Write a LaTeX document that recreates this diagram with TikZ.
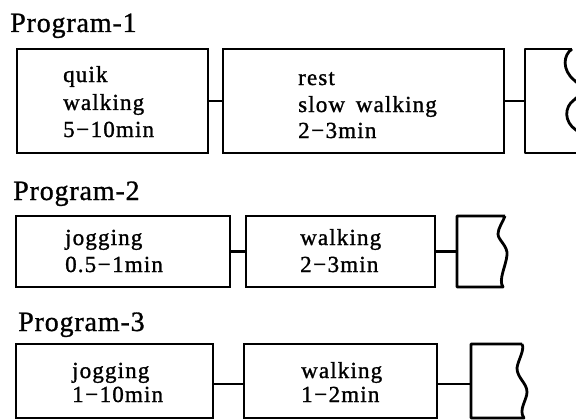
\documentclass[tikz,border=0pt]{standalone}
\usepackage{fontspec}
\setmainfont{Liberation Serif}
\newfontfamily\boxfont{Liberation Serif}[LetterSpace=5,FakeBold=1.2]
\newfontfamily\titlefont{Liberation Serif}[LetterSpace=3,FakeBold=1]
\newcommand{\dsh}{\hspace{1.5pt}−\hspace{1.5pt}}
\begin{document}
\begin{tikzpicture}[x=1pt,y=-1pt,
  box/.style={draw, line width=2.8pt, rectangle, inner sep=0pt, outer sep=0pt, anchor=north west},
  link/.style={line width=2.8pt},
  lbl/.style={anchor=base west, inner sep=0pt, font=\boxfont\fontsize{23}{23}\selectfont},
  ttl/.style={anchor=base west, inner sep=0pt, font=\titlefont\fontsize{28}{28}\selectfont}]
\useasboundingbox (0,0) rectangle (576,420);

% ---------- Program-1
\node[ttl] (t1) at (10,32) {Program-1};
\node[box, minimum width=191pt, minimum height=104pt] (p1a) at (17,49) {};
\node[box, minimum width=281pt, minimum height=104pt] (p1b) at (223,49) {};
\coordinate (c1) at (525,101);
\draw[link, line join=round] (572,49) -- (525,49) -- (525,153) -- (580,153);
\draw[link] (572,49) .. controls (563,55) and (562,70) .. (574,80)
  .. controls (582,86) and (582,94) .. (574,100)
  .. controls (564,107) and (564,122) .. (576,130)
  .. controls (584,136) and (584,148) .. (580,153);
\draw[link] (p1a.east) -- (p1b.west);
\draw[link] (p1b.east) -- (c1);
\node[lbl] (l11) at (63,82) {quik};
\node[lbl] (l12) at (63,110) {walking};
\node[lbl] (l13) at (63,137) {5\dsh10min};
\node[lbl] (l14) at (298,85) {rest};
\node[lbl] (l15) at (298,112) {slow\, walking};
\node[lbl] (l16) at (298,138) {2\dsh3min};

% ---------- Program-2
\node[ttl] (t2) at (13,200) {Program-2};
\node[box, minimum width=214pt, minimum height=71pt] (p2a) at (16,216) {};
\node[box, minimum width=189pt, minimum height=71pt] (p2b) at (246,216) {};
\coordinate (c2) at (457,251.5);
\draw[link, line join=round] (505,216) -- (457,216) -- (457,287) -- (503,287)
  .. controls (498,280) and (506,266) .. (507,255)
  .. controls (508,246) and (498,240) .. (498,234)
  .. controls (498,228) and (503,222) .. (505,216);
\draw[link] (p2a.east) -- (p2b.west);
\draw[link] (p2b.east) -- (c2);
\node[lbl] (l21) at (65,245) {jogging};
\node[lbl] (l22) at (65,272) {0.5\dsh1min};
\node[lbl] (l23) at (300,245) {walking};
\node[lbl] (l24) at (300,272) {2\dsh3min};

% ---------- Program-3
\node[ttl] (t3) at (18,331) {Program-3};
\node[box, minimum width=197pt, minimum height=74pt] (p3a) at (16,344) {};
\node[box, minimum width=193pt, minimum height=74pt] (p3b) at (244,344) {};
\coordinate (c3) at (471,384);
\draw[link, line join=round] (522,344) -- (471,344) -- (471,418) -- (524,418)
  .. controls (518,410) and (527,400) .. (527,392)
  .. controls (527,383) and (517,378) .. (517,368)
  .. controls (518,360) and (525,350) .. (522,344);
\draw[link] (p3a.east |- c3) -- (p3b.west |- c3);
\draw[link] (p3b.east |- c3) -- (c3);
\node[lbl] (l31) at (72,378) {jogging};
\node[lbl] (l32) at (72,402) {1\dsh10min};
\node[lbl] (l33) at (301,378) {walking};
\node[lbl] (l34) at (301,402) {1\dsh2min};
\end{tikzpicture}
\end{document}
